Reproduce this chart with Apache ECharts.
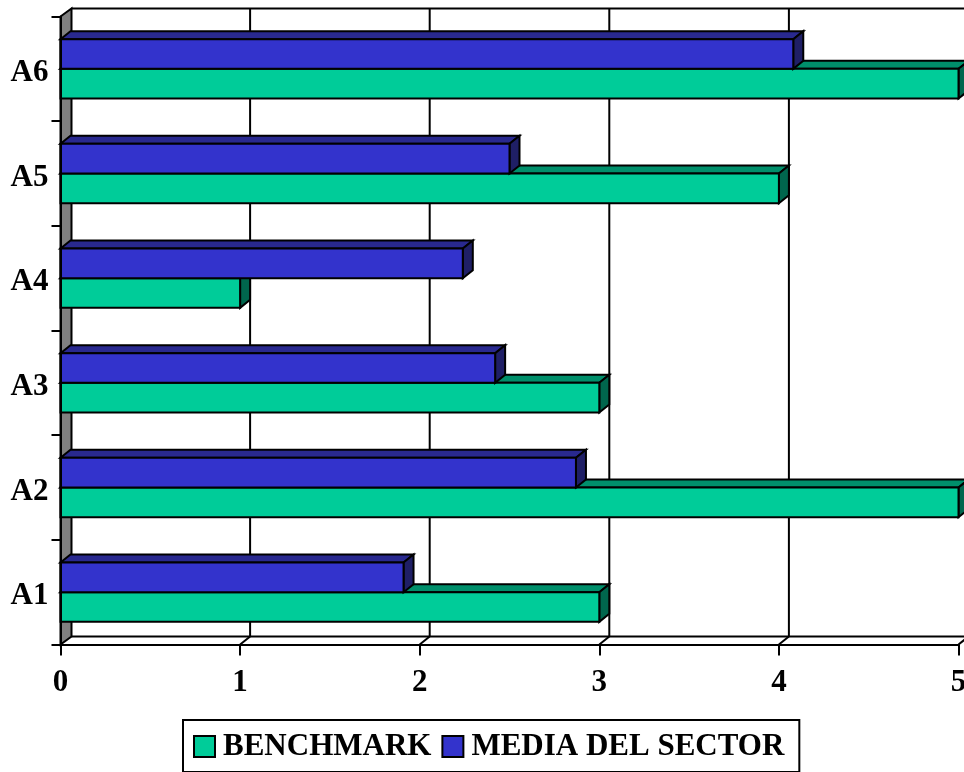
<!DOCTYPE html>
<html>
<head>
<meta charset="utf-8">
<style>html,body{margin:0;padding:0;background:#fff}#c{width:964px;height:772px}</style>
<script src="https://cdn.jsdelivr.net/npm/echarts@6/dist/echarts.min.js"></script>
</head>
<body>
<div id="c"></div>
<script>
const categories = ['A1','A2','A3','A4','A5','A6'];
const benchmark = [3,5,3,1,4,5];
const mediaSector = [1.91,2.87,2.42,2.24,2.50,4.08];
const xTicks = [0,1,2,3,4,5];

const FONT = '"Liberation Serif","Times New Roman",serif';
const DX = 10, WALL_DX = 11, DY = 8, BAR = 0.2835, LW = 2;
const BLACK = '#000';

function poly(points, fill) {
  return {type:'polygon', shape:{points}, style:{fill, stroke:BLACK, lineWidth:LW, lineJoin:'miter'}};
}
function line(x1,y1,x2,y2){
  return {type:'line', shape:{x1,y1,x2,y2}, style:{stroke:BLACK, lineWidth:LW, fill:null}};
}
function barRenderer(slot, front, top, side){
  return function(params, api){
    const end = api.coord([api.value(0), api.value(1)]);
    const start = api.coord([0, api.value(1)]);
    const band = api.size([0,1])[1];
    const h = band * BAR;
    const y0 = end[1] + slot * h;
    const y1 = y0 + h;
    const x0 = start[0], x1 = end[0];
    return {type:'group', children:[
      poly([[x0,y0],[x0+DX,y0-DY],[x1+DX,y0-DY],[x1,y0]], top),
      poly([[x1,y0],[x1+DX,y0-DY],[x1+DX,y1-DY],[x1,y1]], side),
      poly([[x0,y0],[x1,y0],[x1,y1],[x0,y1]], front)
    ]};
  };
}
function sceneRenderer(params, api){
  const cs = params.coordSys;
  const v = api.value(0);
  const x = api.coord([v,0])[0];
  const yT = cs.y, yB = cs.y + cs.height;
  const children = [];
  if (v === xTicks[0]) {
    children.push(poly([[x,yT],[x+WALL_DX,yT-DY],[x+WALL_DX,yB-DY],[x,yB]], '#808080'));
    const xR = cs.x + cs.width + DX;
    children.push(line(x+WALL_DX,yT-DY,xR,yT-DY));
    children.push(line(x+WALL_DX,yB-DY,xR,yB-DY));
  } else {
    children.push(line(x+DX,yT-DY,x+DX,yB-DY));
    children.push(line(x,yB,x+DX,yB-DY));
  }
  return {type:'group', children};
}

const chart = echarts.init(document.getElementById('c'), null, {renderer:'canvas'});
chart.setOption({
  animation:false,
  backgroundColor:'#fff',
  grid:{left:60.5, top:16.5, width:898, height:628, containLabel:false, outerBoundsMode:'none'},
  xAxis:{
    type:'value', min:0, max:5, interval:1,
    splitLine:{show:false},
    axisLine:{show:true,onZero:false,lineStyle:{color:BLACK,width:LW}},
    axisTick:{show:true,length:11,lineStyle:{color:BLACK,width:LW}},
    axisLabel:{show:true,margin:23,color:BLACK,fontFamily:FONT,fontWeight:'bold',fontSize:31,showMaxLabel:true,hideOverlap:false,alignMaxLabel:'center'},
    z:5
  },
  yAxis:{
    type:'category', data:categories, boundaryGap:true,
    axisLine:{show:true,onZero:false,lineStyle:{color:BLACK,width:LW}},
    axisTick:{show:true,length:9,lineStyle:{color:BLACK,width:LW}},
    axisLabel:{show:true,margin:12,color:BLACK,fontFamily:FONT,fontWeight:'bold',fontSize:31,
      formatter:'{a|{value}}',
      rich:{a:{fontFamily:FONT,fontWeight:'bold',fontSize:31,color:BLACK,lineHeight:34,padding:[8,0,0,0]}}},
    splitLine:{show:false},
    z:5
  },
  legend:{
    left:183, top:720, orient:'horizontal',
    padding:[11,15,10,10], itemGap:10, itemWidth:21, itemHeight:21,
    borderColor:BLACK, borderWidth:2, backgroundColor:'#fff',
    textStyle:{color:BLACK,fontFamily:FONT,fontWeight:'bold',fontSize:31,padding:[0,0,0,3]},
    selectedMode:false,
    data:[
      {name:'BENCHMARK',icon:'rect',itemStyle:{color:'#00CC99',borderColor:BLACK,borderWidth:2}},
      {name:'MEDIA DEL SECTOR',icon:'rect',itemStyle:{color:'#3333CC',borderColor:BLACK,borderWidth:2}}
    ]
  },
  series:[
    {type:'custom', name:'scene', silent:true, z:1, clip:false,
     renderItem:sceneRenderer, data:xTicks.map(v=>[v,0]), encode:{x:0,y:1}},
    {type:'custom', name:'BENCHMARK', z:2, clip:false,
     itemStyle:{color:'#00CC99'},
     renderItem:barRenderer(0,'#00CC99','#008F6B','#00664D'),
     data:benchmark.map((v,i)=>[v,i]), encode:{x:0,y:1}},
    {type:'custom', name:'MEDIA DEL SECTOR', z:3, clip:false,
     itemStyle:{color:'#3333CC'},
     renderItem:barRenderer(-1,'#3333CC','#29298F','#1F1F66'),
     data:mediaSector.map((v,i)=>[v,i]), encode:{x:0,y:1}}
  ]
});
</script>
</body>
</html>
